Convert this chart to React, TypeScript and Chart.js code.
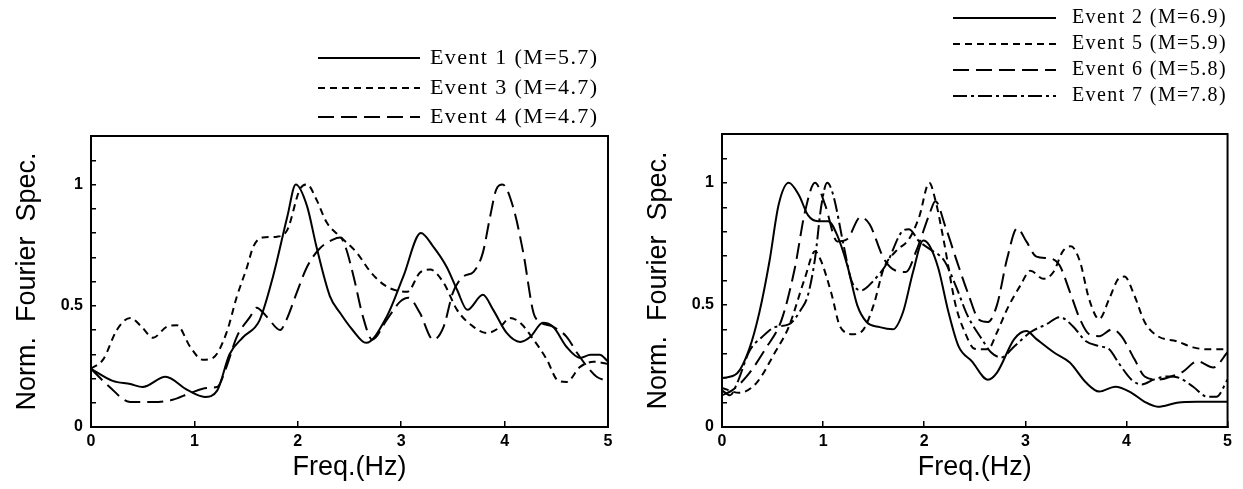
import React, { useEffect, useRef } from "react";
import { Chart, registerables } from "chart.js";

Chart.register(...registerables);

const PAGE_W = 1243;
const PAGE_H = 489;
const Y_AXIS_W = 91;

const FREQ_MIN = 0;
const FREQ_MAX = 5;
const SPEC_MIN = 0;
const SPEC_MAX = 1.2;
const SPEC_LABELS = [0, 0.5, 1];

// ---------- Left panel ----------
const ev1Freq = [0, 0.21, 0.38, 0.5, 0.72, 0.93, 1.1, 1.22, 1.34, 1.47, 1.63, 1.76, 1.9, 1.98, 2.09, 2.18, 2.31, 2.41, 2.53, 2.66, 2.86, 3.02, 3.19, 3.31, 3.44, 3.54, 3.64, 3.79, 3.89, 4.02, 4.15, 4.25, 4.37, 4.47, 4.6, 4.73, 4.83, 4.92, 5.0];
const ev1Spec = [0.24, 0.19, 0.177, 0.165, 0.207, 0.153, 0.124, 0.15, 0.3, 0.37, 0.44, 0.62, 0.87, 1.0, 0.91, 0.744, 0.54, 0.47, 0.4, 0.347, 0.455, 0.62, 0.8, 0.744, 0.66, 0.566, 0.483, 0.545, 0.483, 0.388, 0.351, 0.372, 0.43, 0.413, 0.33, 0.285, 0.298, 0.298, 0.27];

const ev3Freq = [0, 0.12, 0.25, 0.38, 0.49, 0.6, 0.73, 0.83, 0.96, 1.08, 1.18, 1.31, 1.41, 1.51, 1.57, 1.66, 1.8, 1.9, 2.02, 2.09, 2.18, 2.28, 2.41, 2.57, 2.71, 2.86, 3.06, 3.18, 3.28, 3.41, 3.54, 3.7, 3.83, 3.96, 4.05, 4.15, 4.28, 4.41, 4.51, 4.6, 4.73, 4.86, 5.0];
const ev3Spec = [0.24, 0.28, 0.4, 0.45, 0.413, 0.368, 0.413, 0.42, 0.33, 0.277, 0.285, 0.388, 0.537, 0.661, 0.744, 0.781, 0.785, 0.814, 0.98, 1.0, 0.938, 0.843, 0.785, 0.719, 0.636, 0.579, 0.558, 0.636, 0.649, 0.595, 0.483, 0.413, 0.388, 0.413, 0.45, 0.43, 0.36, 0.277, 0.194, 0.186, 0.248, 0.269, 0.26];

const ev4Freq = [0, 0.18, 0.38, 0.6, 0.79, 0.96, 1.12, 1.22, 1.31, 1.41, 1.54, 1.6, 1.7, 1.83, 1.89, 1.99, 2.09, 2.21, 2.34, 2.41, 2.46, 2.54, 2.63, 2.72, 2.86, 2.99, 3.07, 3.18, 3.31, 3.41, 3.5, 3.6, 3.7, 3.79, 3.86, 3.92, 3.98, 4.08, 4.18, 4.28, 4.34, 4.47, 4.6, 4.7, 4.8, 4.89, 5.0];
const ev4Spec = [0.24, 0.165, 0.103, 0.103, 0.112, 0.14, 0.161, 0.165, 0.248, 0.372, 0.455, 0.492, 0.455, 0.4, 0.442, 0.554, 0.661, 0.735, 0.773, 0.781, 0.744, 0.62, 0.455, 0.36, 0.442, 0.517, 0.533, 0.471, 0.36, 0.413, 0.554, 0.62, 0.64, 0.719, 0.868, 0.98, 1.0, 0.91, 0.72, 0.47, 0.434, 0.413, 0.372, 0.306, 0.248, 0.207, 0.19];

// ---------- Right panel ----------
const ev2Freq = [0, 0.15, 0.27, 0.37, 0.47, 0.56, 0.66, 0.76, 0.85, 0.95, 1.05, 1.14, 1.24, 1.34, 1.43, 1.56, 1.69, 1.79, 1.89, 1.99, 2.05, 2.14, 2.24, 2.34, 2.47, 2.63, 2.72, 2.89, 3.01, 3.11, 3.28, 3.44, 3.6, 3.73, 3.89, 4.05, 4.18, 4.31, 4.5, 4.7, 5.0];
const ev2Spec = [0.2, 0.22, 0.32, 0.47, 0.68, 0.91, 1.0, 0.95, 0.868, 0.843, 0.843, 0.785, 0.661, 0.496, 0.43, 0.409, 0.4, 0.47, 0.636, 0.764, 0.744, 0.649, 0.47, 0.33, 0.27, 0.194, 0.223, 0.36, 0.393, 0.36, 0.306, 0.264, 0.182, 0.145, 0.165, 0.14, 0.103, 0.083, 0.099, 0.103, 0.103];

const ev5Freq = [0, 0.17, 0.34, 0.53, 0.66, 0.82, 0.92, 0.98, 1.08, 1.17, 1.3, 1.4, 1.5, 1.6, 1.72, 1.85, 1.95, 2.05, 2.11, 2.19, 2.31, 2.4, 2.5, 2.63, 2.72, 2.82, 2.95, 3.05, 3.18, 3.28, 3.37, 3.45, 3.54, 3.63, 3.73, 3.83, 3.92, 3.98, 4.08, 4.18, 4.31, 4.5, 4.66, 4.82, 5.0];
const ev5Spec = [0.16, 0.14, 0.18, 0.31, 0.41, 0.61, 0.72, 0.68, 0.55, 0.41, 0.38, 0.4, 0.5, 0.65, 0.72, 0.77, 0.86, 1.0, 0.93, 0.77, 0.5, 0.39, 0.32, 0.318, 0.388, 0.483, 0.579, 0.64, 0.607, 0.636, 0.719, 0.74, 0.678, 0.525, 0.442, 0.525, 0.607, 0.616, 0.537, 0.43, 0.372, 0.351, 0.326, 0.318, 0.318];

const ev6Freq = [0, 0.1, 0.25, 0.43, 0.59, 0.72, 0.82, 0.92, 1.02, 1.14, 1.24, 1.37, 1.46, 1.6, 1.72, 1.82, 1.92, 2.05, 2.11, 2.21, 2.33, 2.44, 2.54, 2.63, 2.72, 2.82, 2.92, 3.01, 3.11, 3.25, 3.34, 3.44, 3.54, 3.63, 3.73, 3.86, 3.95, 4.08, 4.18, 4.31, 4.44, 4.56, 4.7, 4.86, 5.0];
const ev6Spec = [0.13, 0.15, 0.21, 0.32, 0.44, 0.65, 0.88, 1.0, 0.91, 0.76, 0.77, 0.86, 0.83, 0.69, 0.64, 0.635, 0.72, 0.87, 0.925, 0.82, 0.67, 0.54, 0.44, 0.43, 0.5, 0.69, 0.814, 0.76, 0.698, 0.69, 0.661, 0.554, 0.442, 0.38, 0.372, 0.4, 0.372, 0.277, 0.207, 0.194, 0.207, 0.227, 0.269, 0.244, 0.306];

const ev7Freq = [0, 0.08, 0.15, 0.27, 0.4, 0.53, 0.66, 0.78, 0.85, 0.92, 0.98, 1.04, 1.1, 1.2, 1.28, 1.38, 1.5, 1.63, 1.78, 1.85, 1.95, 2.05, 2.2, 2.31, 2.43, 2.57, 2.66, 2.76, 2.89, 3.05, 3.21, 3.34, 3.47, 3.6, 3.73, 3.83, 3.92, 4.05, 4.15, 4.27, 4.41, 4.53, 4.66, 4.8, 4.89, 5.0];
const ev7Spec = [0.15, 0.13, 0.18, 0.31, 0.37, 0.41, 0.42, 0.48, 0.54, 0.69, 0.9, 1.0, 0.95, 0.75, 0.6, 0.56, 0.6, 0.67, 0.8, 0.81, 0.76, 0.73, 0.68, 0.58, 0.455, 0.36, 0.306, 0.285, 0.33, 0.388, 0.421, 0.45, 0.413, 0.351, 0.331, 0.318, 0.264, 0.194, 0.174, 0.194, 0.207, 0.2, 0.165, 0.124, 0.124, 0.194];

const DASH_SOLID: number[] = [];
const DASH_SHORT = [7, 5];
const DASH_LONG = [16, 7];
const DASH_DOT = [14, 4, 3, 4];

type Series = { label: string; freq: number[]; spec: number[]; dash: number[] };
type Panel = {
  series: Series[];
  area: { left: number; right: number; top: number; bottom: number };
  legend: { lineX0: number; lineX1: number; textX: number; rowY: number[]; size: number; spacing: number };
};

const leftPanel: Panel = {
  series: [
    { label: "Event 1 (M=5.7)", freq: ev1Freq, spec: ev1Spec, dash: DASH_SOLID },
    { label: "Event 3 (M=4.7)", freq: ev3Freq, spec: ev3Spec, dash: DASH_SHORT },
    { label: "Event 4 (M=4.7)", freq: ev4Freq, spec: ev4Spec, dash: DASH_LONG },
  ],
  area: { left: 91, right: 608, top: 136, bottom: 427 },
  legend: { lineX0: 318, lineX1: 420, textX: 430, rowY: [58, 88, 117], size: 22, spacing: 1.4 },
};

const rightPanel: Panel = {
  series: [
    { label: "Event 2 (M=6.9)", freq: ev2Freq, spec: ev2Spec, dash: DASH_SOLID },
    { label: "Event 5 (M=5.9)", freq: ev5Freq, spec: ev5Spec, dash: DASH_SHORT },
    { label: "Event 6 (M=5.8)", freq: ev6Freq, spec: ev6Spec, dash: DASH_LONG },
    { label: "Event 7 (M=7.8)", freq: ev7Freq, spec: ev7Spec, dash: DASH_DOT },
  ],
  area: { left: 722, right: 1238, top: 134, bottom: 427 },
  legend: { lineX0: 953, lineX1: 1056, textX: 1072, rowY: [18, 44, 70, 96], size: 20, spacing: 1.4 },
};

const SANS = "'Liberation Sans', Arial, Helvetica, sans-serif";
const SERIF = "'Liberation Serif', 'Times New Roman', serif";

const legendPlugin = {
  id: "panelLegend",
  afterDraw(chart: any, _args: any, opts: any) {
    const ctx = chart.ctx as CanvasRenderingContext2D;
    ctx.save();
    chart.data.datasets.forEach((ds: any, i: number) => {
      const y = opts.rowY[i];
      ctx.beginPath();
      ctx.setLineDash(ds.borderDash || []);
      ctx.lineWidth = 2;
      ctx.strokeStyle = "#000";
      ctx.moveTo(opts.lineX0, y);
      ctx.lineTo(opts.lineX1, y);
      ctx.stroke();
      ctx.setLineDash([]);
      (ctx as any).letterSpacing = opts.spacing + "px";
      ctx.font = `${opts.size}px ${SERIF}`;
      ctx.fillStyle = "#000";
      ctx.textBaseline = "middle";
      ctx.textAlign = "left";
      ctx.fillText(ds.label, opts.textX, y);
      (ctx as any).letterSpacing = "0px";
    });
    ctx.restore();
  },
};

const framePlugin = {
  id: "panelFrame",
  afterDraw(chart: any) {
    const { ctx, chartArea } = chart;
    ctx.save();
    ctx.strokeStyle = "#000";
    ctx.lineWidth = 2;
    ctx.setLineDash([]);
    ctx.strokeRect(chartArea.left, chartArea.top, chartArea.right - chartArea.left, chartArea.bottom - chartArea.top);
    ctx.restore();
  },
};

function isLabelled(v: number) {
  return SPEC_LABELS.some((l) => Math.abs(v - l) < 1e-6);
}

function buildConfig(p: Panel): any {
  return {
    type: "line",
    data: {
      datasets: p.series.map((s) => ({
        label: s.label,
        data: s.freq.map((f, i) => ({ x: f, y: s.spec[i] })),
        borderColor: "#000",
        backgroundColor: "#000",
        borderWidth: 2,
        borderDash: s.dash,
        pointRadius: 0,
        pointHoverRadius: 0,
        fill: false,
        cubicInterpolationMode: "monotone",
      })),
    },
    options: {
      responsive: false,
      maintainAspectRatio: false,
      animation: false,
      devicePixelRatio: 1,
      events: [],
      layout: {
        padding: {
          left: p.area.left - Y_AXIS_W,
          right: PAGE_W - p.area.right,
          top: p.area.top,
          bottom: 0,
        },
      },
      plugins: {
        legend: { display: false },
        tooltip: { enabled: false },
        panelLegend: p.legend,
      },
      scales: {
        x: {
          type: "linear",
          position: "bottom",
          min: FREQ_MIN,
          max: FREQ_MAX,
          afterFit: (s: any) => {
            s.height = PAGE_H - p.area.bottom;
          },
          ticks: {
            stepSize: 1,
            autoSkip: false,
            maxRotation: 0,
            padding: 11,
            color: "#000",
            font: { family: SANS, size: 16, weight: "bold" },
            callback: (v: any) => String(v),
          },
          grid: { drawOnChartArea: false, drawTicks: true, tickLength: -6, color: "#000", lineWidth: 1.5 },
          border: { display: true, color: "#000", width: 2 },
          title: {
            display: true,
            text: "Freq.(Hz)",
            color: "#000",
            font: { family: SANS, size: 27, weight: "normal" },
            padding: { top: 0, bottom: 5 },
          },
        },
        y: {
          type: "linear",
          position: "left",
          min: SPEC_MIN,
          max: SPEC_MAX,
          afterFit: (s: any) => {
            s.width = Y_AXIS_W;
          },
          ticks: {
            stepSize: 0.1,
            maxTicksLimit: 20,
            autoSkip: false,
            padding: 13,
            color: "#000",
            font: { family: SANS, size: 16, weight: "bold" },
            callback: (v: any) => {
              const n = Number(v);
              if (!isLabelled(n)) return "";
              return Math.abs(n - 0.5) < 1e-6 ? "0.5" : String(Math.round(n));
            },
          },
          grid: { drawOnChartArea: false, drawTicks: true, tickLength: -5, color: "#000", lineWidth: 1.5 },
          border: { display: true, color: "#000", width: 2 },
          title: {
            display: true,
            text: "Norm.  Fourier  Spec.",
            color: "#000",
            font: { family: SANS, size: 27, weight: "normal" },
            padding: { top: 11, bottom: 0 },
          },
        },
      },
    },
    plugins: [legendPlugin, framePlugin],
  };
}

function PanelChart({ panel }: { panel: Panel }) {
  const ref = useRef<HTMLCanvasElement>(null);
  useEffect(() => {
    if (!ref.current) return;
    const chart = new Chart(ref.current, buildConfig(panel));
    return () => chart.destroy();
  }, [panel]);
  return (
    <canvas
      ref={ref}
      width={PAGE_W}
      height={PAGE_H}
      style={{ position: "absolute", left: 0, top: 0, width: PAGE_W, height: PAGE_H }}
    />
  );
}

export default function App() {
  return (
    <div
      style={{
        position: "absolute",
        left: 0,
        top: 0,
        width: PAGE_W,
        height: PAGE_H,
        background: "#fff",
        overflow: "hidden",
      }}
    >
      <PanelChart panel={leftPanel} />
      <PanelChart panel={rightPanel} />
    </div>
  );
}
